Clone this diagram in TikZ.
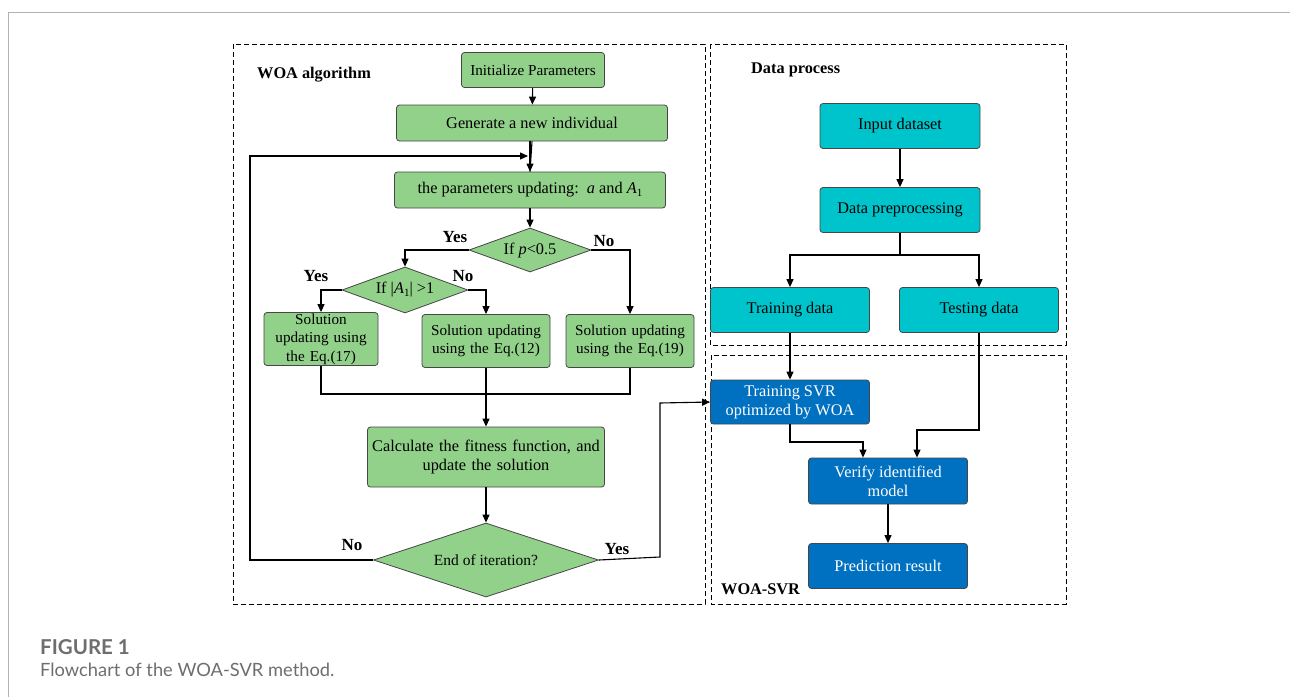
\documentclass[tikz,border=0pt]{standalone}
\usepackage{fontspec}
\setmainfont{Liberation Serif}
\newfontfamily\capfont{Lato}
\usetikzlibrary{shapes.geometric,arrows.meta,calc}
\definecolor{gfill}{RGB}{146,209,138}
\definecolor{tfill}{RGB}{0,196,204}
\definecolor{bfill}{RGB}{0,112,192}
\definecolor{bord}{RGB}{70,70,70}
\definecolor{capgray}{RGB}{110,110,110}
\begin{document}
\begin{tikzpicture}[x=1pt,y=-1pt,
  font=\fontsize{16.3}{19}\selectfont,
  gbox/.style={draw=bord,line width=0.8pt,fill=gfill,rounded corners=3pt,inner sep=0pt,align=center},
  sbox/.style={gbox,font=\fontsize{15.2}{18.5}\selectfont},
  tbox/.style={draw=bord,line width=0.8pt,fill=tfill,rounded corners=3pt,inner sep=0pt,align=center,minimum width=159pt,minimum height=45pt},
  bbox/.style={draw=bord,line width=0.8pt,fill=bfill,text=white,rounded corners=3pt,inner sep=0pt,align=center,minimum width=159pt,minimum height=45pt},
  gdia/.style={draw=bord,line width=0.8pt,fill=gfill,diamond,inner sep=0pt,align=center},
  frame/.style={draw=black,line width=1pt,dash pattern=on 5pt off 3pt},
  arr/.style={draw=black,line width=1.1pt,-{Triangle[length=8pt,width=7pt]}},
  ln/.style={draw=black,line width=1.1pt},
  yn/.style={font=\fontsize{17}{19}\selectfont\bfseries,inner sep=0pt},
  ttl/.style={font=\fontsize{16.3}{18}\selectfont\bfseries,inner sep=0pt,anchor=west}
]
\useasboundingbox (0,0) rectangle (1290,697);
\fill[white] (0,0) rectangle (1290,697);
% page frame
\draw[line width=0.8pt,draw=black!30] (8,697) -- (8,12) -- (1290,12);

% frames
\draw[frame] (233,44) rectangle (705,604);
\draw[frame] (710,44) rectangle (1066,345);
\draw[frame] (711,355) rectangle (1066,604);
\node[ttl] (t1) at (257,75) {WOA algorithm};
\node[ttl] (t2) at (751,70) {Data process};
\node[ttl] (t3) at (721,589) {WOA-SVR};

% left flowchart
\node[sbox,minimum width=143pt,minimum height=35pt] (init) at (533,70) {Initialize Parameters};
\node[gbox,minimum width=271pt,minimum height=36pt] (gen) at (532,123) {Generate a new individual};
\node[gbox,minimum width=271pt,minimum height=36pt] (par) at (530,190) {the parameters updating:\ \ \textit{a} and \textit{A}\raisebox{-0.35ex}{\fontsize{11}{11}\selectfont 1}};
\node[gdia,aspect=2.8,minimum width=122pt,minimum height=44pt] (dp) at (530,250) {If \textit{p}<0.5};
\node[gdia,aspect=2.7,minimum width=126pt,minimum height=46pt] (da) at (405,290) {If |\textit{A}\raisebox{-0.35ex}{\fontsize{11}{11}\selectfont 1}| >1};
\node[sbox,minimum width=114pt,minimum height=53pt,text width=110pt] (s17) at (321,339) {Solution\\updating using\\the Eq.(17)};
\node[sbox,minimum width=128pt,minimum height=53pt,text width=124pt] (s12) at (486,341) {Solution updating\\using the Eq.(12)};
\node[sbox,minimum width=128pt,minimum height=53pt,text width=124pt] (s19) at (630,341) {Solution updating\\using the Eq.(19)};
\node[gbox,minimum width=237pt,minimum height=60pt,text width=233pt] (calc) at (486,457) {Calculate the fitness function, and\\update the solution};
\node[gdia,aspect=3.04,minimum width=225pt,minimum height=74pt,font=\fontsize{15.5}{18}\selectfont] (end) at (486,560) {End of iteration?};

\coordinate (loopin) at (528,156);
\coordinate (join) at (486,394);

\draw[arr] (init) -- (gen);
\draw[ln] (gen.south) -- (par.north);
\draw[arr] (par.north) ++(0,-31) -- (par.north);
\draw[arr] (end.west) -- (250,560) -- (250,156) -- (loopin);
\draw[arr] (par) -- (dp);
\draw[arr] (dp.west) -| (da.north);
\draw[arr] (dp.east) -| (s19.north);
\draw[arr] (da.west) -| (s17.north);
\draw[arr] (da.east) -| (s12.north);
\draw[ln] (s17.south) |- (join);
\draw[ln] (s19.south) |- (join);
\draw[arr] (s12.south) -- (calc.north);
\draw[arr] (calc) -- (end);

\node[yn] (y1) at (455,237) {Yes};
\node[yn] (n1) at (604,241) {No};
\node[yn] (y2) at (316,276) {Yes};
\node[yn] (n2) at (463,276) {No};
\node[yn] (n3) at (352,545) {No};
\node[yn] (y3) at (617,549) {Yes};

% right side
\node[tbox,minimum width=160pt] (inp) at (900,126) {Input dataset};
\node[tbox,minimum width=160pt] (pre) at (900,210) {Data preprocessing};
\node[tbox] (trd) at (790,310) {Training data};
\node[tbox] (ted) at (979,310) {Testing data};
\node[bbox,minimum height=44pt] (svr) at (790,402) {Training SVR\\optimized by WOA};
\node[bbox,minimum height=46pt] (ver) at (888,481) {Verify identified\\model};
\node[bbox] (pred) at (888,566) {Prediction result};

\coordinate (split) at (900,255);
\draw[arr] (inp) -- (pre);
\draw[ln] (pre.south) -- (split);
\draw[arr] (split) -| (trd.north);
\draw[arr] (split) -| (ted.north);
\draw[arr] (trd) -- (svr);
\draw[arr] (ted.south) -- (979,430) -| ($(ver.north)+(29,0)$);
\draw[arr] (svr.south) -- (790,442) -| ($(ver.north)+(-25,0)$);
\draw[arr] (ver) -- (pred);
\draw[arr] (end.east) -- (660,557) -- (660,403) -- (svr.west);

% caption
\node[anchor=west,inner sep=0pt,text=capgray,font=\capfont\fontsize{20.5}{24}\selectfont\bfseries] (cap1) at (40,647) {FIGURE 1};
\node[anchor=west,inner sep=0pt,text=capgray,font=\capfont\fontsize{18.3}{22}\selectfont] (cap2) at (40,670) {Flowchart of the WOA-SVR method.};
\end{tikzpicture}
\end{document}
